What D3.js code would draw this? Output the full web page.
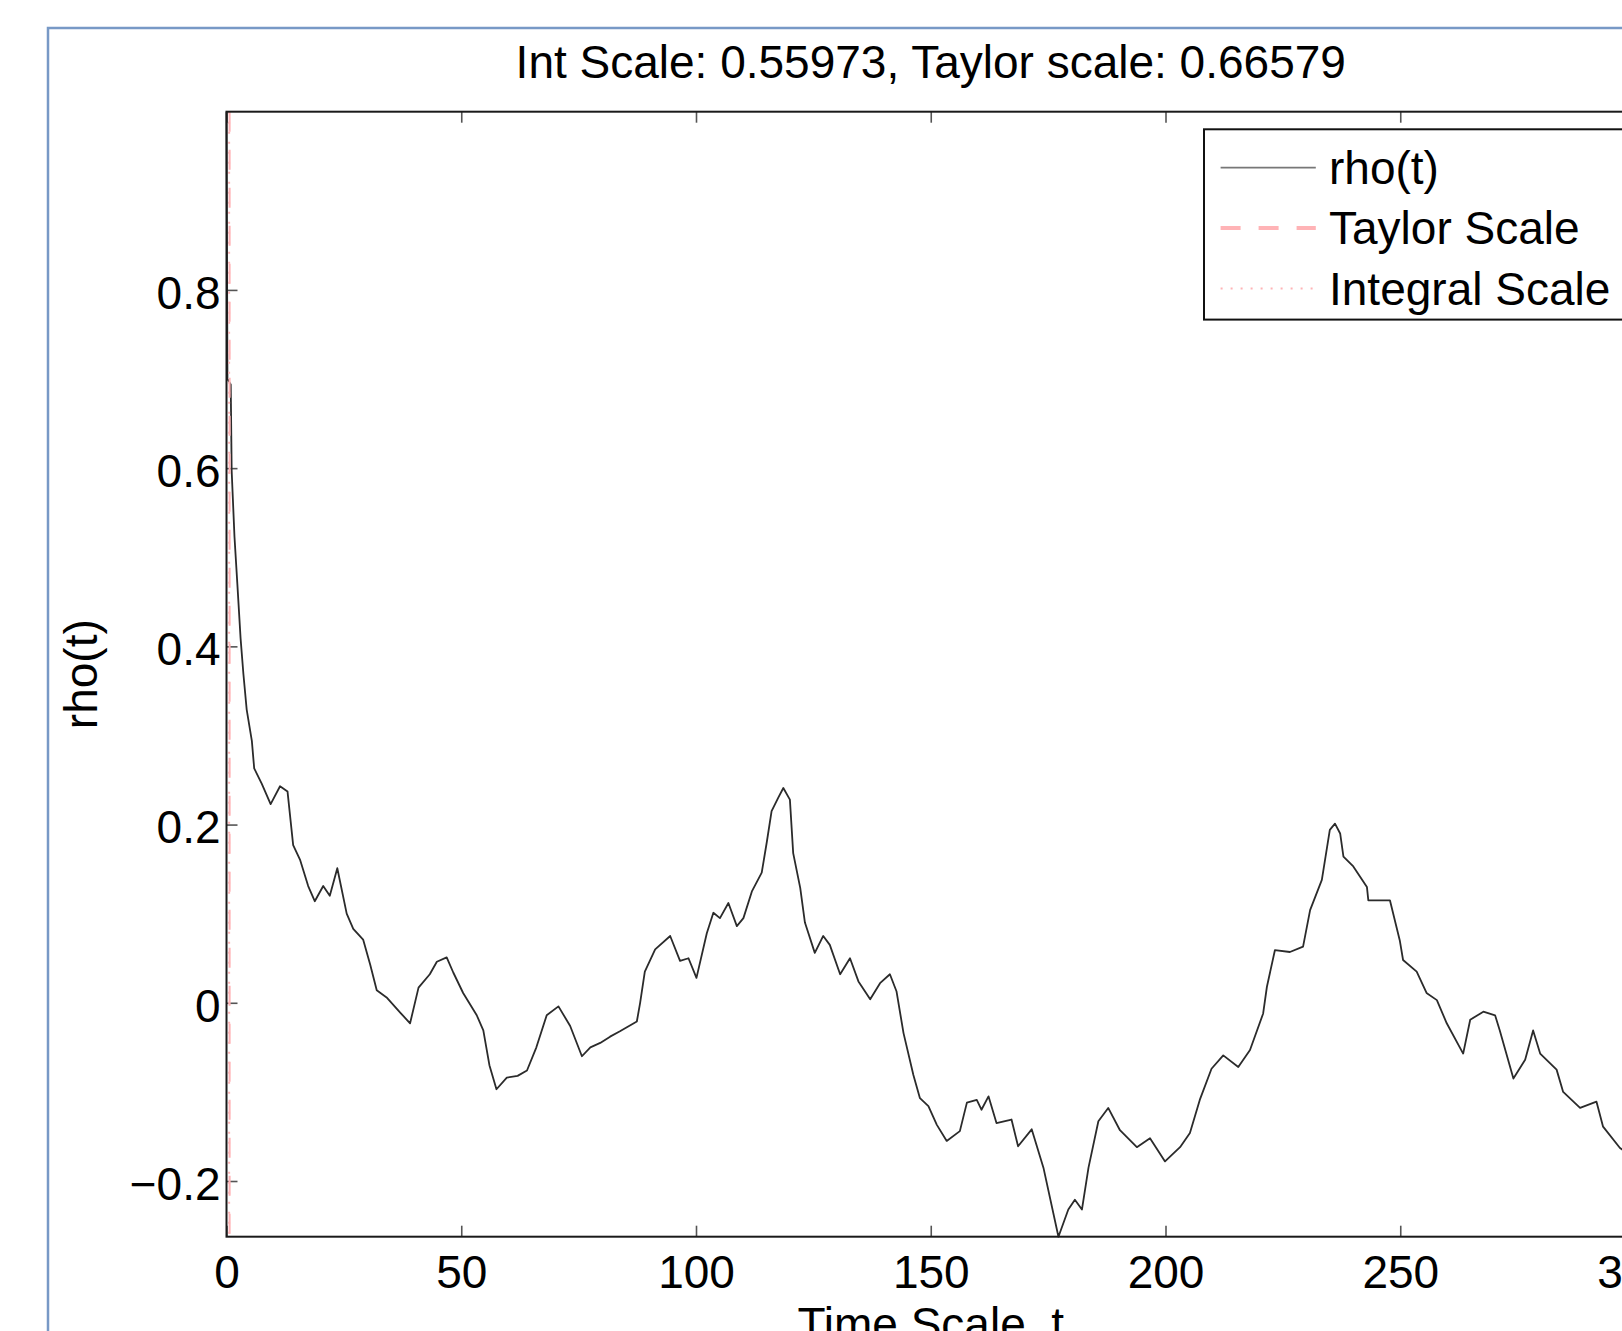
<!DOCTYPE html>
<html>
<head>
    <title>Autocorrelation rho(t)</title>
    <script src="https://d3js.org/d3.v7.min.js"></script>
    <style>
        body { margin: 0; background: #fff; }
        text { font-family: "Liberation Sans", Arial, Helvetica, sans-serif; fill: #000; }
    </style>
</head>
<body>
    <svg width="1622" height="1331"></svg>

    <script>
        // scales reported in the title
        var intScale = 0.55973;
        var taylorScale = 0.66579;

        // time lag t and correlation rho(t)
        var tValues = [
            0, 0.2, 0.9, 1.1, 1.7, 2.3, 3.0, 3.6, 4.3, 5.4, 5.9, 7.5, 9.4, 11.4, 13.0, 14.2, 15.7, 17.4, 18.8, 20.6, 22.0,
            23.6, 25.6, 27.0, 29.1, 30.6, 32.0, 34.1, 37.0, 39.1, 40.9, 43.3, 44.8, 46.9, 48.3, 50.4, 53.3, 54.7, 56.0, 57.5, 59.7,
            62.0, 64.0, 66.0, 68.2, 70.7, 73.2, 75.7, 77.5, 79.6, 81.7, 83.8, 87.4, 88.1, 89.1, 91.3, 94.5, 96.6, 98.4, 100.1, 102.3,
            103.7, 105.1, 106.9, 108.7, 110.1, 111.9, 114.0, 115.1, 116.1, 117.5, 118.6, 120.0, 120.7, 122.2, 123.2, 125.3, 127.1, 128.5, 130.7, 132.8,
            134.6, 137.1, 139.2, 141.3, 142.7, 144.2, 146.3, 147.7, 149.5, 151.3, 153.4, 156.2, 157.7, 159.8, 160.8, 162.3, 164.0, 167.2, 168.6, 171.5,
            174.0, 177.2, 179.3, 180.7, 182.2, 183.6, 185.7, 187.8, 190.3, 193.9, 196.7, 199.9, 203.1, 205.2, 207.3, 209.8, 212.3, 215.5, 218.0, 220.8,
            221.6, 223.3, 226.5, 229.3, 230.8, 233.3, 235.0, 236.1, 237.2, 237.9, 240.0, 242.9, 243.2, 247.8, 249.9, 250.6, 253.5, 255.6, 257.8, 259.9,
            263.4, 264.9, 267.7, 270.2, 271.2, 274.1, 276.6, 278.3, 279.8, 283.3, 284.7, 288.3, 291.8, 293.2, 296.8, 300
        ];
        var rhoValues = [
            1.0, 0.700, 0.694, 0.597, 0.523, 0.471, 0.409, 0.369, 0.329, 0.294, 0.263, 0.246, 0.223, 0.243, 0.237, 0.177, 0.160, 0.131, 0.114, 0.131, 0.120,
            0.151, 0.100, 0.083, 0.071, 0.043, 0.014, 0.006, -0.011, -0.023, 0.017, 0.032, 0.046, 0.051, 0.034, 0.011, -0.014, -0.031, -0.070, -0.097, -0.084,
            -0.082, -0.076, -0.050, -0.014, -0.004, -0.026, -0.060, -0.050, -0.045, -0.038, -0.032, -0.021, 0.000, 0.035, 0.060, 0.075, 0.047, 0.050, 0.028, 0.078,
            0.101, 0.095, 0.112, 0.086, 0.095, 0.125, 0.146, 0.181, 0.215, 0.230, 0.241, 0.228, 0.168, 0.129, 0.090, 0.056, 0.075, 0.065, 0.032, 0.050,
            0.024, 0.004, 0.022, 0.032, 0.013, -0.034, -0.081, -0.107, -0.116, -0.137, -0.155, -0.144, -0.112, -0.109, -0.120, -0.105, -0.135, -0.131, -0.161, -0.142,
            -0.185, -0.2625, -0.232, -0.221, -0.232, -0.185, -0.133, -0.118, -0.143, -0.162, -0.152, -0.178, -0.162, -0.146, -0.109, -0.074, -0.059, -0.072, -0.053, -0.012,
            0.018, 0.059, 0.057, 0.063, 0.104, 0.138, 0.194, 0.201, 0.190, 0.164, 0.153, 0.130, 0.115, 0.115, 0.070, 0.048, 0.035, 0.011, 0.003, -0.023,
            -0.057, -0.019, -0.010, -0.014, -0.031, -0.085, -0.064, -0.031, -0.057, -0.075, -0.100, -0.118, -0.111, -0.139, -0.163, -0.175
        ];

        // axis ticks
        var xTicks = [0, 50, 100, 150, 200, 250, 300];
        var yTicks = [-0.2, 0, 0.2, 0.4, 0.6, 0.8];
        var legendLabels = ["rho(t)", "Taylor Scale", "Integral Scale"];

        var box = {left: 226.5, right: 1635, top: 111.7, bottom: 1236.7};
        var fontSize = 46;
        var pink = "#ffb3b6";

        var svg = d3.select("svg");

        // outer window frame
        svg.append("rect")
            .attr("x", 48).attr("y", 28)
            .attr("width", 1700).attr("height", 1400)
            .attr("fill", "none")
            .attr("stroke", "#7899c6")
            .attr("stroke-width", 2.5);

        var x = d3.scaleLinear().domain([0, 300]).range([box.left, box.right]);
        var y = d3.scaleLinear().domain([-0.2625, 1.0]).range([box.bottom, box.top]);

        var points = tValues.map(function(t, i) { return {t: t, rho: rhoValues[i]}; });

        // tick marks point inward on all four sides
        var minus = function(d) { return d < 0 ? "\u2212" + Math.abs(d) : String(d); };

        var gx = svg.append("g")
            .attr("transform", "translate(0," + box.bottom + ")")
            .call(d3.axisBottom(x).tickValues(xTicks).tickSizeInner(-11).tickSizeOuter(0).tickPadding(19));
        var gy = svg.append("g")
            .attr("transform", "translate(" + box.left + ",0)")
            .call(d3.axisLeft(y).tickValues(yTicks).tickFormat(minus).tickSizeInner(-11).tickSizeOuter(0).tickPadding(6));
        var gt = svg.append("g")
            .attr("transform", "translate(0," + box.top + ")")
            .call(d3.axisTop(x).tickValues(xTicks).tickFormat("").tickSizeInner(-11).tickSizeOuter(0));
        var gr = svg.append("g")
            .attr("transform", "translate(" + box.right + ",0)")
            .call(d3.axisRight(y).tickValues(yTicks).tickFormat("").tickSizeInner(-11).tickSizeOuter(0));

        [gx, gy, gt, gr].forEach(function(g) {
            g.select(".domain").remove();
            g.selectAll(".tick line").attr("stroke", "#555").attr("stroke-width", 1.6);
            g.selectAll(".tick text").style("font-size", fontSize + "px").attr("fill", "#000");
        });
        gy.selectAll(".tick text").attr("dy", "0.4em");

        // rho(t)
        var line = d3.line()
            .x(function(d) { return x(d.t); })
            .y(function(d) { return y(d.rho); });

        svg.append("path")
            .datum(points)
            .attr("fill", "none")
            .attr("stroke", "#2b2b2b")
            .attr("stroke-width", 1.8)
            .attr("stroke-linejoin", "round")
            .attr("d", line);

        // taylor and integral scale markers
        svg.append("line")
            .attr("x1", x(taylorScale)).attr("x2", x(taylorScale))
            .attr("y1", box.top).attr("y2", box.bottom)
            .attr("stroke", pink).attr("stroke-width", 2)
            .attr("stroke-dasharray", "20,18");
        svg.append("line")
            .attr("x1", x(intScale)).attr("x2", x(intScale))
            .attr("y1", box.top).attr("y2", box.bottom)
            .attr("stroke", pink).attr("stroke-width", 2)
            .attr("stroke-dasharray", "2,8");

        // axes box
        svg.append("rect")
            .attr("x", box.left).attr("y", box.top)
            .attr("width", box.right - box.left).attr("height", box.bottom - box.top)
            .attr("fill", "none")
            .attr("stroke", "#1a1a1a")
            .attr("stroke-width", 2);

        // title and labels
        svg.append("text")
            .attr("x", (box.left + box.right) / 2)
            .attr("y", 78)
            .attr("text-anchor", "middle")
            .style("font-size", "46px")
            .text("Int Scale: " + intScale + ", Taylor scale: " + taylorScale);

        svg.append("text")
            .attr("x", (box.left + box.right) / 2)
            .attr("y", 1340)
            .attr("text-anchor", "middle")
            .style("font-size", fontSize + "px")
            .text("Time Scale, t");

        svg.append("text")
            .attr("transform", "translate(97," + ((box.top + box.bottom) / 2) + ") rotate(-90)")
            .attr("text-anchor", "middle")
            .style("font-size", fontSize + "px")
            .text("rho(t)");

        // legend
        var legend = svg.append("g").attr("transform", "translate(1204,129.3)");
        legend.append("rect")
            .attr("width", 460).attr("height", 190.3)
            .attr("fill", "#fff")
            .attr("stroke", "#111")
            .attr("stroke-width", 2);

        var legendStyles = [
            {stroke: "#777", width: 1.6, dash: null},
            {stroke: pink, width: 4, dash: "20,18"},
            {stroke: pink, width: 2, dash: "2,8"}
        ];

        legendLabels.forEach(function(label, i) {
            var cy = 38.3 + i * 60.5;
            legend.append("line")
                .attr("x1", 16.6).attr("x2", 111.8)
                .attr("y1", cy).attr("y2", cy)
                .attr("stroke", legendStyles[i].stroke)
                .attr("stroke-width", legendStyles[i].width)
                .attr("stroke-dasharray", legendStyles[i].dash);
            legend.append("text")
                .attr("x", 125)
                .attr("y", cy + 16)
                .style("font-size", fontSize + "px")
                .text(label);
        });
    </script>
</body>
</html>
